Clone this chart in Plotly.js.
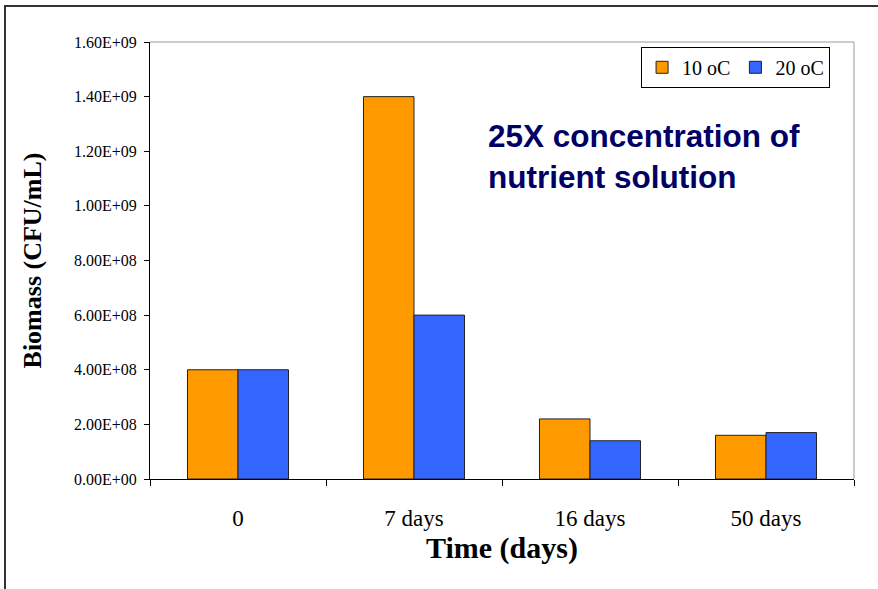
<!DOCTYPE html>
<html>
<head>
<meta charset="utf-8">
<script src="https://cdn.plot.ly/plotly-3.0.1.min.js"></script>
<style>
  html, body { margin: 0; padding: 0; background: #fff; }
  #frame {
    position: absolute; left: 0; top: 0; width: 878px; height: 589px;
    overflow: hidden;
  }
  #frame::before {
    content: ""; position: absolute; left: 4px; top: 5px; right: 0; bottom: 0;
    border-left: 2px solid #333; border-top: 2px solid #333;
    pointer-events: none; z-index: 5;
  }
  #chart { position: absolute; left: 0; top: 0; width: 878px; height: 589px; }
</style>
</head>
<body>
<div id="frame"><div id="chart"></div></div>
<script>
// Sampling times
const categories = ['0', '7 days', '16 days', '50 days'];
// Biomass (CFU/mL) at each temperature
const biomass10C = [4.0e8, 1.40e9, 2.2e8, 1.6e8];
const biomass20C = [4.0e8, 6.0e8, 1.4e8, 1.7e8];
// Y axis ticks
const yTickVals = [0, 2e8, 4e8, 6e8, 8e8, 1.0e9, 1.2e9, 1.4e9, 1.6e9];
const yTickText = ['0.00E+00', '2.00E+08', '4.00E+08', '6.00E+08', '8.00E+08',
                   '1.00E+09', '1.20E+09', '1.40E+09', '1.60E+09'];

const serif = '"Liberation Serif", "Times New Roman", serif';
const sans = '"Liberation Sans", Arial, sans-serif';

const traces = [
  {
    type: 'bar', name: '10 oC', x: categories, y: biomass10C,
    marker: { color: '#FF9900', line: { color: '#222', width: 1 } }
  },
  {
    type: 'bar', name: '20 oC', x: categories, y: biomass20C,
    marker: { color: '#3366FF', line: { color: '#222', width: 1 } }
  }
];

const layout = {
  width: 878, height: 589,
  margin: { l: 150, r: 24, t: 42, b: 110, pad: 0 },
  paper_bgcolor: 'rgba(0,0,0,0)',
  plot_bgcolor: '#fff',
  bargap: 0.426, bargroupgap: 0,
  barmode: 'group',
  showlegend: true,
  legend: {
    orientation: 'h', x: 0.966, y: 0.989, xanchor: 'right', yanchor: 'top',
    bordercolor: '#000', borderwidth: 1, bgcolor: '#fff',
    font: { family: serif, size: 20, color: '#000' },
    tracegroupgap: 0
  },
  xaxis: {
    type: 'category',
    showline: true, linecolor: '#000', linewidth: 1,
    ticks: 'outside', ticklen: 6, tickcolor: '#000', tickson: 'boundaries',
    ticklabelstandoff: 18,
    showgrid: false, zeroline: false,
    tickfont: { family: serif, size: 23, color: '#000' },
    title: { text: '<b>Time (days)</b>', font: { family: serif, size: 30, color: '#000' }, standoff: 7 }
  },
  yaxis: {
    range: [0, 1.6e9],
    tickvals: yTickVals, ticktext: yTickText,
    showline: true, linecolor: '#000', linewidth: 1,
    ticks: 'outside', ticklen: 5, tickcolor: '#000',
    ticklabelstandoff: 4,
    showgrid: false, zeroline: false,
    tickfont: { family: serif, size: 16, color: '#000' },
    title: { text: '<b>Biomass (CFU/mL)</b>', font: { family: serif, size: 26, color: '#000' }, standoff: 24 }
  },
  shapes: [
    { type: 'line', xref: 'paper', yref: 'paper', x0: 0, x1: 1, y0: 1, y1: 1,
      line: { color: '#999', width: 1 } },
    { type: 'line', xref: 'paper', yref: 'paper', x0: 1, x1: 1, y0: 0, y1: 1,
      line: { color: '#999', width: 1 } }
  ],
  annotations: [
    {
      xref: 'paper', yref: 'paper', x: 0.477, y: 0.737, xanchor: 'left', yanchor: 'middle',
      align: 'left', showarrow: false,
      text: '<b>25X concentration of<br>nutrient solution</b>',
      font: { family: sans, size: 31.5, color: '#000066' }
    }
  ]
};

Plotly.newPlot('chart', traces, layout, { displayModeBar: false, staticPlot: true });
</script>
</body>
</html>
